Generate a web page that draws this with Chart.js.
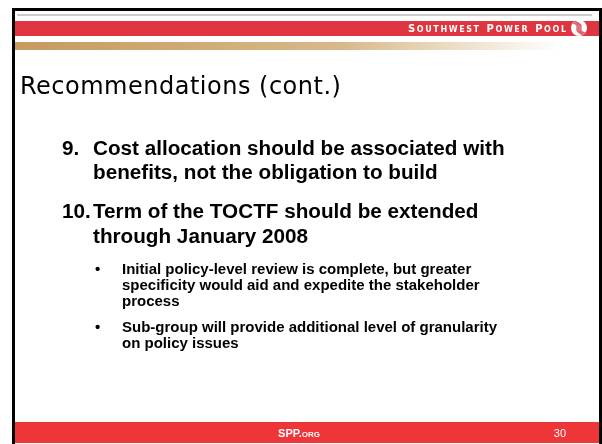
<!DOCTYPE html>
<html>
<head>
<meta charset="utf-8">
<script src="https://cdn.jsdelivr.net/npm/chart.js@4"></script>
<style>
html,body{margin:0;padding:0;background:#fff;overflow:hidden}
#wrap{width:602px;height:444px;position:relative}
</style>
</head>
<body>
<div id="wrap"><canvas id="c" width="602" height="444"></canvas></div>
<script>
const headerText = 'Southwest Power Pool';
const footerMain = 'SPP.';
const footerSmall = 'org';
const pageNumber = '30';
const titleText = 'Recommendations (cont.)';
const itemNumbers = ['9.', '10.'];
const itemLines = [
  ['Cost allocation should be associated with', 'benefits, not the obligation to build'],
  ['Term of the TOCTF should be extended', 'through January 2008']
];
const bulletLines = [
  ['Initial policy-level review is complete, but greater', 'specificity would aid and expedite the stakeholder', 'process'],
  ['Sub-group will provide additional level of granularity', 'on policy issues']
];

function smallCaps(ctx, text, xRight, y, big, small, spacing) {
  const parts = [];
  text.split(' ').forEach((w, wi) => {
    if (wi > 0) parts.push({t: ' ', s: small, sp: spacing * 2});
    parts.push({t: w[0].toUpperCase(), s: big, sp: spacing});
    for (const ch of w.slice(1)) parts.push({t: ch.toUpperCase(), s: small, sp: spacing});
  });
  let total = 0;
  parts.forEach(p => { ctx.font = 'bold ' + p.s + 'px "DejaVu Sans"'; p.w = ctx.measureText(p.t).width; total += p.w + p.sp; });
  total -= spacing;
  let x = xRight - total;
  parts.forEach(p => { ctx.font = 'bold ' + p.s + 'px "DejaVu Sans"'; ctx.fillText(p.t, x, y); x += p.w + p.sp; });
}

const slidePlugin = {
  id: 'slide',
  beforeDraw(chart) {
    const ctx = chart.ctx;
    ctx.save();
    ctx.fillStyle = '#fff';
    ctx.fillRect(0, 0, 602, 444);
    // black frame
    ctx.fillStyle = '#000';
    ctx.fillRect(12, 8, 590, 3);
    ctx.fillRect(12, 8, 3, 436);
    ctx.fillRect(599, 8, 3, 436);
    // thin grey line
    ctx.fillStyle = '#c9cdcd';
    ctx.fillRect(17, 14, 575, 2);
    // red header band
    ctx.fillStyle = '#df3540';
    ctx.fillRect(15, 21, 584, 15);
    // gold gradient band
    const g = ctx.createLinearGradient(15, 0, 560, 0);
    g.addColorStop(0, '#c79a5e');
    g.addColorStop(0.6, '#d8b98a');
    g.addColorStop(1, 'rgba(255,255,255,1)');
    ctx.fillStyle = g;
    ctx.fillRect(15, 42, 560, 8);
    // header text
    ctx.fillStyle = '#fff';
    ctx.textBaseline = 'alphabetic';
    ctx.textAlign = 'left';
    smallCaps(ctx, headerText, 566, 32, 10, 8, 1.6);
    // logo
    ctx.beginPath();
    ctx.arc(579, 28, 8, 0, Math.PI * 2);
    ctx.fillStyle = '#fff';
    ctx.fill();
    ctx.strokeStyle = '#d9636b';
    ctx.lineWidth = 1.3;
    for (let i = -2; i <= 2; i++) {
      ctx.beginPath();
      ctx.moveTo(575 + i, 21 + Math.abs(i));
      ctx.bezierCurveTo(584 + i, 25, 574 + i, 31, 583 + i, 35 - Math.abs(i));
      ctx.stroke();
    }
    // footer
    ctx.fillStyle = '#ee3537';
    ctx.fillRect(15, 422, 584, 21);
    ctx.fillStyle = '#fff';
    ctx.font = 'bold 11px "Liberation Sans"';
    const w1 = ctx.measureText(footerMain).width;
    ctx.font = 'bold 8px "Liberation Sans"';
    const w2 = ctx.measureText(footerSmall.toUpperCase()).width;
    let fx = 299 - (w1 + w2) / 2;
    ctx.font = 'bold 11px "Liberation Sans"';
    ctx.fillText(footerMain, fx, 437);
    ctx.font = 'bold 8px "Liberation Sans"';
    ctx.fillText(footerSmall.toUpperCase(), fx + w1, 437);
    ctx.font = '11px "Liberation Sans"';
    ctx.textAlign = 'right';
    ctx.fillText(pageNumber, 566, 437);
    // title
    ctx.textAlign = 'left';
    ctx.fillStyle = '#000';
    ctx.font = '24px "DejaVu Sans"';
    if ('letterSpacing' in ctx) ctx.letterSpacing = '0.5px';
    ctx.fillText(titleText, 20, 94);
    if ('letterSpacing' in ctx) ctx.letterSpacing = '0px';
    // items
    ctx.font = 'bold 20.7px "Liberation Sans"';
    const itemY = [[155, 179], [218, 243]];
    itemLines.forEach((lines, i) => {
      ctx.fillText(itemNumbers[i], 62, itemY[i][0]);
      lines.forEach((l, j) => ctx.fillText(l, 93, itemY[i][j]));
    });
    // bullets
    ctx.font = 'bold 15px "Liberation Sans"';
    const bulY = [[274, 290, 306], [332, 348]];
    bulletLines.forEach((lines, i) => {
      ctx.fillText('\u2022', 95, bulY[i][0]);
      lines.forEach((l, j) => ctx.fillText(l, 122, bulY[i][j]));
    });
    ctx.restore();
  }
};

new Chart(document.getElementById('c'), {
  type: 'bar',
  data: { labels: [], datasets: [] },
  options: {
    responsive: false,
    animation: false,
    devicePixelRatio: 1,
    plugins: { legend: { display: false }, tooltip: { enabled: false }, title: { display: false } },
    scales: { x: { display: false }, y: { display: false } }
  },
  plugins: [slidePlugin]
});
</script>
</body>
</html>
